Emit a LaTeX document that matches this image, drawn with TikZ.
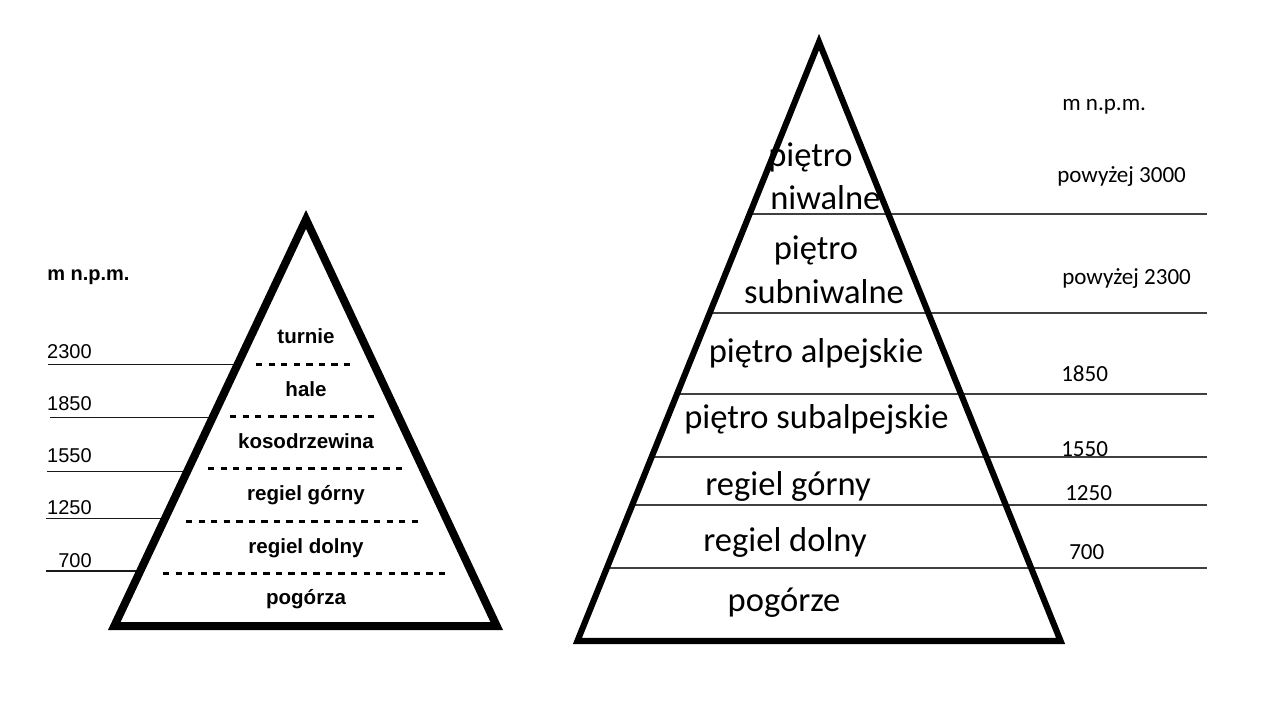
\documentclass[tikz,border=0pt]{standalone}
\usepackage{fontspec}
\setmainfont{Liberation Sans}
\newfontfamily\calibri{Carlito}
\begin{document}
\begin{tikzpicture}[x=0.75pt,y=-0.75pt,
  pyrL/.style={line width=6pt, line join=miter},
  pyrR/.style={line width=4.6pt, line join=miter},
  levelL/.style={line width=0.8pt, black!90},
  levelR/.style={line width=0.9pt, black!75},
  zonedash/.style={line width=1.9pt, dash pattern=on 4.8pt off 4.6pt},
  lzone/.style={font=\fontsize{15.4}{18}\selectfont\bfseries, anchor=base, inner sep=0pt},
  lnum/.style={font=\fontsize{15}{18}\selectfont, anchor=base east, inner sep=0pt},
  rzone/.style={font=\calibri\fontsize{25.9}{30}\selectfont, anchor=base, inner sep=0pt},
  rnum/.style={font=\calibri\fontsize{17.3}{20}\selectfont, anchor=base west, inner sep=0pt},
]
\useasboundingbox[fill=white] (0,0) rectangle (1280,710);

% ---------------- left pyramid ----------------
\coordinate (LA) at (306,219.4);
\coordinate (LB) at (114.3,626);
\coordinate (LC) at (496.7,626);

% solid level lines (left)
\coordinate (l1s) at (48,364.3);  \coordinate (l1e) at (236,364.3);
\coordinate (l2s) at (50,417.3);  \coordinate (l2e) at (211,417.3);
\coordinate (l3s) at (47,471.7);  \coordinate (l3e) at (185,471.7);
\coordinate (l4s) at (46,518.3);  \coordinate (l4e) at (164,518.3);
\coordinate (l5s) at (46,571.0);  \coordinate (l5e) at (139,571.0);
\draw[levelL] (l1s) -- (l1e);
\draw[levelL] (l2s) -- (l2e);
\draw[levelL] (l3s) -- (l3e);
\draw[levelL] (l4s) -- (l4e);
\draw[levelL] (l5s) -- (l5e);

% dashed zone borders (left)
\coordinate (d1s) at (256,364.3); \coordinate (d1e) at (352,364.3);
\coordinate (d2s) at (230,416.7); \coordinate (d2e) at (377,416.7);
\coordinate (d3s) at (208,468.3); \coordinate (d3e) at (405,468.3);
\coordinate (d4s) at (186,521.7); \coordinate (d4e) at (422,521.7);
\coordinate (d5s) at (163,573.3); \coordinate (d5e) at (449,573.3);
\draw[zonedash] (d1s) -- (d1e);
\draw[zonedash] (d2s) -- (d2e);
\draw[zonedash] (d3s) -- (d3e);
\draw[zonedash] (d4s) -- (d4e);
\draw[zonedash] (d5s) -- (d5e);

\draw[pyrL] (LA) -- (LB) -- (LC) -- cycle;

\node[lzone] (lturnie) at (306,343) {turnie};
\node[lzone] (lhale)   at (306,396) {hale};
\node[lzone] (lkoso)   at (306,448) {kosodrzewina};
\node[lzone] (lrg)     at (306,500) {regiel górny};
\node[lzone] (lrd)     at (306,553) {regiel dolny};
\node[lzone] (lpog)    at (306,604) {pogórza};

\node[font=\fontsize{15}{18}\selectfont\bfseries, anchor=base west, inner sep=0pt] (lunit) at (47,280) {m n.p.m.};
\node[lnum] (n2300) at (92,358) {2300};
\node[lnum] (n1850) at (92,410) {1850};
\node[lnum] (n1550) at (92,462) {1550};
\node[lnum] (n1250) at (92,514) {1250};
\node[lnum] (n700)  at (92,567) {700};

% ---------------- right pyramid ----------------
\coordinate (RA) at (819,42);
\coordinate (RB) at (577.4,641);
\coordinate (RC) at (1060.6,641);

\coordinate (r1s) at (748,214);   \coordinate (r1e) at (1207,214);
\coordinate (r2s) at (708,313);   \coordinate (r2e) at (1207,313);
\coordinate (r3s) at (675,394);   \coordinate (r3e) at (1207,394);
\coordinate (r4s) at (650,457);   \coordinate (r4e) at (1207,457);
\coordinate (r5s) at (630,505);   \coordinate (r5e) at (1207,505);
\coordinate (r6s) at (605,568);   \coordinate (r6e) at (1207,568);
\draw[levelR] (r1s) -- (r1e);
\draw[levelR] (r2s) -- (r2e);
\draw[levelR] (r3s) -- (r3e);
\draw[levelR] (r4s) -- (r4e);
\draw[levelR] (r5s) -- (r5e);
\draw[levelR] (r6s) -- (r6e);

\draw[pyrR] (RA) -- (RB) -- (RC) -- cycle;

\node[rzone, anchor=base west] (rpn1) at (768,166) {piętro};
\node[rzone, anchor=base west] (rniw) at (770,209) {niwalne};
\node[rzone] (rpn2)  at (816,259) {piętro};
\node[rzone] (rsub)  at (824,303) {subniwalne};
\node[rzone] (ralp)  at (816,362) {piętro alpejskie};
\node[rzone] (rsalp) at (816.5,428) {piętro subalpejskie};
\node[rzone] (rrg)   at (788,495) {regiel górny};
\node[rzone] (rrd)   at (785,551) {regiel dolny};
\node[rzone] (rpog)  at (784,611) {pogórze};

\node[rnum] (runit) at (1062,110) {m n.p.m.};
\node[rnum] (r3000) at (1057,182) {powyżej 3000};
\node[rnum] (r2300) at (1062,284) {powyżej 2300};
\node[rnum] (r1850) at (1061,381) {1850};
\node[rnum] (r1550) at (1061,456) {1550};
\node[rnum] (r1250) at (1065,500) {1250};
\node[rnum] (r700)  at (1069,559) {700};
\end{tikzpicture}
\end{document}
